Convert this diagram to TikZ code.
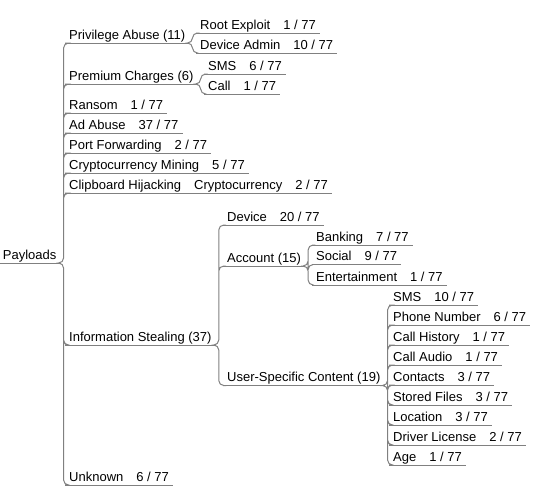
\documentclass[tikz,border=0pt]{standalone}
\usepackage{fontspec}
\setmainfont{Liberation Sans}
\usepackage{xcolor}
\definecolor{linegray}{RGB}{128,128,128}

\begin{document}
\begin{tikzpicture}[x=1pt, y=-1pt,
		topic/.style={anchor=south west, inner xsep=4pt, inner ysep=1.5pt,
			text height=9.5pt, text depth=2pt, font=\fontsize{13}{15}\selectfont,
			append after command={(\tikzlastnode.south west) edge[uline] (\tikzlastnode.south east)}},
		uline/.style={draw=linegray, line width=1pt},
		branch/.style={draw=linegray, line width=1pt, rounded corners=5pt,
			to path={(\tikztostart) -- ++(3pt,0) |- (\tikztotarget)}}]
		\useasboundingbox (0,0) rectangle (541,491);
		% root and first level
		\node[topic] (pl) at (-1.3,263) {Payloads};
		\node[topic] (pa) at (65,43) {Privilege Abuse (11)};
		\node[topic] (pc) at (65,84) {Premium Charges (6)};
		\node[topic] (ra) at (65,113) {Ransom\quad 1 / 77};
		\node[topic] (ad) at (65,133) {Ad Abuse\quad 37 / 77};
		\node[topic] (pf) at (65,153) {Port Forwarding\quad 2 / 77};
		\node[topic] (cm) at (65,173) {Cryptocurrency Mining\quad 5 / 77};
		\node[topic] (ch) at (65,193) {Clipboard Hijacking\quad Cryptocurrency\quad 2 / 77};
		\node[topic] (is) at (65,345) {Information Stealing (37)};
		\node[topic] (un) at (65,485) {Unknown\quad 6 / 77};
		
		% second level
		\node[topic] (re) at (196,33) {Root Exploit\quad 1 / 77};
		\node[topic] (da) at (196,53) {Device Admin\quad 10 / 77};
		\node[topic] (sm) at (204,74) {SMS\quad 6 / 77};
		\node[topic] (ca) at (204,94) {Call\quad 1 / 77};
		\node[topic] (dv) at (223,225) {Device\quad 20 / 77};
		\node[topic] (ac) at (223,266) {Account (15)};
		\node[topic] (us) at (223,385.5) {User-Specific Content (19)};
		
		% third level
		\node[topic] (bk) at (312,245) {Banking\quad 7 / 77};
		\node[topic] (so) at (312,264.5) {Social\quad 9 / 77};
		\node[topic] (en) at (312,285) {Entertainment\quad 1 / 77};
		\node[topic] (ms) at (389,305) {SMS\quad 10 / 77};
		\node[topic] (pn) at (389,325) {Phone Number\quad 6 / 77};
		\node[topic] (hi) at (389,345) {Call History\quad 1 / 77};
		\node[topic] (au) at (389,365) {Call Audio\quad 1 / 77};
		\node[topic] (co) at (389,385) {Contacts\quad 3 / 77};
		\node[topic] (sf) at (389,405) {Stored Files\quad 3 / 77};
		\node[topic] (lo) at (389,425) {Location\quad 3 / 77};
		\node[topic] (dl) at (389,445) {Driver License\quad 2 / 77};
		\node[topic] (ag) at (389,465) {Age\quad 1 / 77};
		
		\draw[branch] (pl.south east) to (pa.south west) (pl.south east) to (pc.south west)
			(pl.south east) to (ra.south west) (pl.south east) to (ad.south west)
			(pl.south east) to (pf.south west) (pl.south east) to (cm.south west)
			(pl.south east) to (ch.south west) (pl.south east) to (is.south west)
			(pl.south east) to (un.south west);
		\draw[branch] (pa.south east) to (re.south west) (pa.south east) to (da.south west);
		\draw[branch] (pc.south east) to (sm.south west) (pc.south east) to (ca.south west);
		\draw[branch] (is.south east) to (dv.south west) (is.south east) to (ac.south west)
			(is.south east) to (us.south west);
		\draw[branch] (ac.south east) to (bk.south west) (ac.south east) to (so.south west)
			(ac.south east) to (en.south west);
		\draw[branch] (us.south east) to (ms.south west) (us.south east) to (pn.south west)
			(us.south east) to (hi.south west) (us.south east) to (au.south west)
			(us.south east) to (co.south west) (us.south east) to (sf.south west)
			(us.south east) to (lo.south west) (us.south east) to (dl.south west)
			(us.south east) to (ag.south west);
	\end{tikzpicture}
\end{document}
